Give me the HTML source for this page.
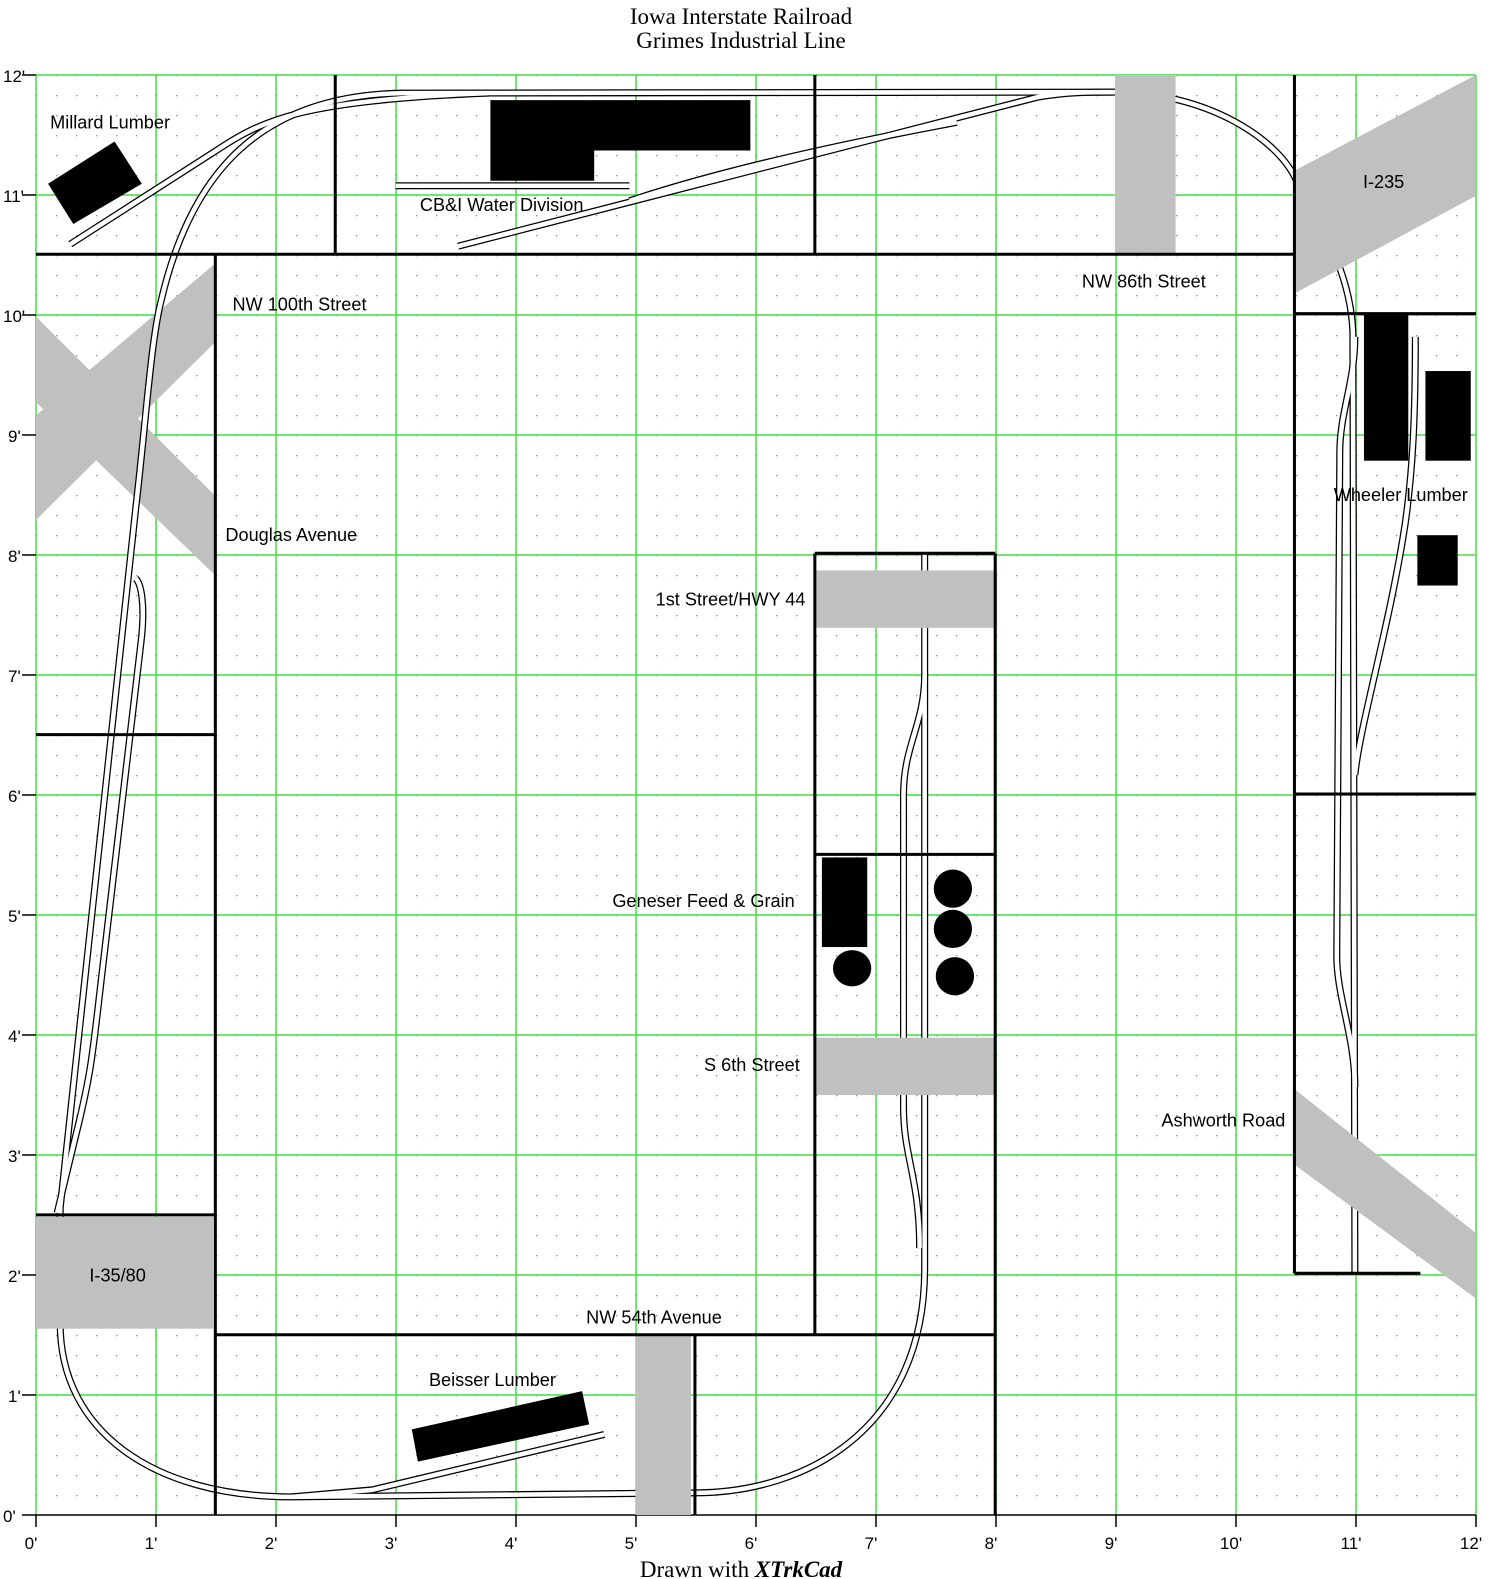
<!DOCTYPE html>
<html><head><meta charset="utf-8"><style>
html,body{margin:0;padding:0;background:#fff;}
svg{display:block;}
</style></head><body>
<svg width="1494" height="1579" xmlns="http://www.w3.org/2000/svg" font-family="Liberation Sans, Arial, sans-serif">
<defs>
<pattern id="dots" x="36" y="75" width="20" height="20" patternUnits="userSpaceOnUse">
<rect x="-1.3" y="-1.3" width="2.6" height="2.6" fill="#3c3"/>
</pattern>
</defs>
<rect width="1494" height="1579" fill="#fff"/>
<text x="741" y="24" font-family="Liberation Serif, serif" font-size="23" text-anchor="middle">Iowa Interstate Railroad</text>
<text x="741" y="48" font-family="Liberation Serif, serif" font-size="23" text-anchor="middle">Grimes Industrial Line</text>
<text x="741" y="1577" font-family="Liberation Serif, serif" font-size="23" text-anchor="middle">Drawn with <tspan font-weight="bold" font-style="italic">XTrkCad</tspan></text>

<rect x="36" y="75" width="1440" height="1440" fill="url(#dots)"/>
<g stroke="#44dd44" stroke-width="1.5">
<line x1="36" y1="75" x2="36" y2="1515"/><line x1="156" y1="75" x2="156" y2="1515"/><line x1="276" y1="75" x2="276" y2="1515"/><line x1="396" y1="75" x2="396" y2="1515"/><line x1="516" y1="75" x2="516" y2="1515"/><line x1="636" y1="75" x2="636" y2="1515"/><line x1="756" y1="75" x2="756" y2="1515"/><line x1="876" y1="75" x2="876" y2="1515"/><line x1="996" y1="75" x2="996" y2="1515"/><line x1="1116" y1="75" x2="1116" y2="1515"/><line x1="1236" y1="75" x2="1236" y2="1515"/><line x1="1356" y1="75" x2="1356" y2="1515"/><line x1="1476" y1="75" x2="1476" y2="1515"/>
<line x1="36" y1="75" x2="1476" y2="75"/><line x1="36" y1="195" x2="1476" y2="195"/><line x1="36" y1="315" x2="1476" y2="315"/><line x1="36" y1="435" x2="1476" y2="435"/><line x1="36" y1="555" x2="1476" y2="555"/><line x1="36" y1="675" x2="1476" y2="675"/><line x1="36" y1="795" x2="1476" y2="795"/><line x1="36" y1="915" x2="1476" y2="915"/><line x1="36" y1="1035" x2="1476" y2="1035"/><line x1="36" y1="1155" x2="1476" y2="1155"/><line x1="36" y1="1275" x2="1476" y2="1275"/><line x1="36" y1="1395" x2="1476" y2="1395"/>
</g>
<g stroke="#000" stroke-width="1.5">
<line x1="22" y1="1515" x2="1476" y2="1515"/>
<line x1="22" y1="75" x2="36" y2="75"/><line x1="22" y1="195" x2="36" y2="195"/><line x1="22" y1="315" x2="36" y2="315"/><line x1="22" y1="435" x2="36" y2="435"/><line x1="22" y1="555" x2="36" y2="555"/><line x1="22" y1="675" x2="36" y2="675"/><line x1="22" y1="795" x2="36" y2="795"/><line x1="22" y1="915" x2="36" y2="915"/><line x1="22" y1="1035" x2="36" y2="1035"/><line x1="22" y1="1155" x2="36" y2="1155"/><line x1="22" y1="1275" x2="36" y2="1275"/><line x1="22" y1="1395" x2="36" y2="1395"/>
<line x1="36" y1="1515" x2="36" y2="1527"/><line x1="156" y1="1515" x2="156" y2="1527"/><line x1="276" y1="1515" x2="276" y2="1527"/><line x1="396" y1="1515" x2="396" y2="1527"/><line x1="516" y1="1515" x2="516" y2="1527"/><line x1="636" y1="1515" x2="636" y2="1527"/><line x1="756" y1="1515" x2="756" y2="1527"/><line x1="876" y1="1515" x2="876" y2="1527"/><line x1="996" y1="1515" x2="996" y2="1527"/><line x1="1116" y1="1515" x2="1116" y2="1527"/><line x1="1236" y1="1515" x2="1236" y2="1527"/><line x1="1356" y1="1515" x2="1356" y2="1527"/><line x1="1476" y1="1515" x2="1476" y2="1527"/>
</g>
<g font-size="17" fill="#000">
<text x="3" y="82">12'</text><text x="3" y="202">11'</text><text x="3" y="322">10'</text><text x="8" y="442">9'</text><text x="8" y="562">8'</text><text x="8" y="682">7'</text><text x="8" y="802">6'</text><text x="8" y="922">5'</text><text x="8" y="1042">4'</text><text x="8" y="1162">3'</text><text x="8" y="1282">2'</text><text x="8" y="1402">1'</text><text x="3" y="1522">0'</text>
</g>
<g font-size="17" fill="#000" text-anchor="middle">
<text x="31" y="1549">0'</text><text x="151" y="1549">1'</text><text x="271" y="1549">2'</text><text x="391" y="1549">3'</text><text x="511" y="1549">4'</text><text x="631" y="1549">5'</text><text x="751" y="1549">6'</text><text x="871" y="1549">7'</text><text x="991" y="1549">8'</text><text x="1111" y="1549">9'</text><text x="1231" y="1549">10'</text><text x="1351" y="1549">11'</text><text x="1471" y="1549">12'</text>
</g>

<g transform="translate(36,75) scale(1.00756,1.00699) translate(-36,-75)">
<g fill="#c0c0c0">
<polygon points="214,262 214,340 36,517 36,413"/>
<polygon points="36,315 214,493 214,572 36,400"/>
</g>
<g fill="#000">
<polygon points="48,183 114,141 141,183 73,223"/>
<polygon points="487,100 745,100 745,150 590,150 590,180 487,180"/>
<rect x="1354" y="312" width="44" height="146"/>
<rect x="1415" y="369" width="45" height="89"/>
<rect x="1407" y="532" width="40" height="50"/>
<rect x="816" y="852" width="45" height="89"/>
<ellipse cx="846" cy="962" rx="19" ry="18"/>
<ellipse cx="946" cy="883" rx="19" ry="19"/>
<ellipse cx="946" cy="923" rx="19" ry="19"/>
<ellipse cx="948" cy="970" rx="19" ry="19"/>
<polygon points="409,1420 578,1382 585,1415 415,1452"/>
</g>
<g fill="none" stroke-linejoin="round">
<g stroke="#000" stroke-width="7">
<path d="M 918 550 L 918 1260 C 918 1420 800 1483 690 1483 L 290 1487 C 150 1487 60 1420 60 1315 L 60 1200 L 135 505 C 145 420 150 340 160 300 C 190 170 260 95 400 93 L 1105 92 C 1200 92 1270 140 1287 180 C 1300 210 1340 260 1343 330 L 1345 1265"/>
<path d="M 57 1205 L 75 1130 C 90 1070 92 1050 100 980 L 140 640 C 145 600 140 580 135 575"/>
<path d="M 1345 335 C 1345 380 1330 410 1330 450 L 1327 950 C 1327 990 1345 1030 1345 1080"/>
<path d="M 1345 770 C 1350 720 1380 620 1395 520 C 1402 470 1405 420 1405 335"/>
<path d="M 918 670 C 918 720 897 740 897 790 L 897 1100 C 897 1150 913 1170 913 1240"/>
<path d="M 393 185 L 625 185"/>
<path d="M 455 245 L 1030 97 C 1060 92 1080 92 1105 92"/>
<path d="M 625 200 C 700 175 800 150 950 122"/>
<path d="M 70 243 L 215 150 C 260 120 300 100 485 93"/>
<path d="M 290 1487 L 370 1480 L 600 1425"/>
</g>
<g stroke="#fff" stroke-width="4.5">
<path d="M 918 550 L 918 1260 C 918 1420 800 1483 690 1483 L 290 1487 C 150 1487 60 1420 60 1315 L 60 1200 L 135 505 C 145 420 150 340 160 300 C 190 170 260 95 400 93 L 1105 92 C 1200 92 1270 140 1287 180 C 1300 210 1340 260 1343 330 L 1345 1265"/>
<path d="M 57 1205 L 75 1130 C 90 1070 92 1050 100 980 L 140 640 C 145 600 140 580 135 575"/>
<path d="M 1345 335 C 1345 380 1330 410 1330 450 L 1327 950 C 1327 990 1345 1030 1345 1080"/>
<path d="M 1345 770 C 1350 720 1380 620 1395 520 C 1402 470 1405 420 1405 335"/>
<path d="M 918 670 C 918 720 897 740 897 790 L 897 1100 C 897 1150 913 1170 913 1240"/>
<path d="M 393 185 L 625 185"/>
<path d="M 455 245 L 1030 97 C 1060 92 1080 92 1105 92"/>
<path d="M 625 200 C 700 175 800 150 950 122"/>
<path d="M 70 243 L 215 150 C 260 120 300 100 485 93"/>
<path d="M 290 1487 L 370 1480 L 600 1425"/>
</g>
</g>
<g fill="#c0c0c0">
<rect x="1107" y="75" width="60" height="178"/>
<polygon points="1285,170 1465,75 1465,195 1285,292"/>
<rect x="809" y="567" width="181" height="57"/>
<rect x="808" y="1031" width="179" height="57"/>
<polygon points="1285,1082 1465,1225 1465,1290 1285,1157"/>
<rect x="36" y="1209" width="176" height="111"/>
<rect x="631" y="1326" width="55" height="179"/>
</g>
<g stroke="#000" stroke-width="3" fill="none">
<line x1="36" y1="253" x2="1285" y2="253"/>
<line x1="333" y1="75" x2="333" y2="253"/>
<line x1="809" y1="75" x2="809" y2="253"/>
<line x1="1285" y1="75" x2="1285" y2="1265"/>
<line x1="214" y1="253" x2="214" y2="1505"/>
<line x1="36" y1="730" x2="214" y2="730"/>
<line x1="36" y1="1207" x2="214" y2="1207"/>
<line x1="214" y1="1326" x2="988" y2="1326"/>
<line x1="690" y1="1326" x2="690" y2="1505"/>
<line x1="988" y1="550" x2="988" y2="1505"/>
<line x1="809" y1="550" x2="809" y2="1326"/>
<line x1="809" y1="550" x2="988" y2="550"/>
<line x1="809" y1="849" x2="988" y2="849"/>
<line x1="1285" y1="312" x2="1465" y2="312"/>
<line x1="1285" y1="789" x2="1465" y2="789"/>
<line x1="1285" y1="1265" x2="1410" y2="1265"/>
</g>
<g font-size="18" fill="#000">
<text x="50" y="128">Millard Lumber</text>
<text x="417" y="210">CB&amp;I Water Division</text>
<text x="231" y="309">NW 100th Street</text>
<text x="1074" y="286">NW 86th Street</text>
<text x="1353" y="187">I-235</text>
<text x="224" y="538">Douglas Avenue</text>
<text x="651" y="602">1st Street/HWY 44</text>
<text x="1324" y="498">Wheeler Lumber</text>
<text x="608" y="901">Geneser Feed &amp; Grain</text>
<text x="699" y="1064">S 6th Street</text>
<text x="1153" y="1119">Ashworth Road</text>
<text x="89" y="1273">I-35/80</text>
<text x="582" y="1315">NW 54th Avenue</text>
<text x="426" y="1377">Beisser Lumber</text>
</g>
</g>
</svg>
</body></html>
